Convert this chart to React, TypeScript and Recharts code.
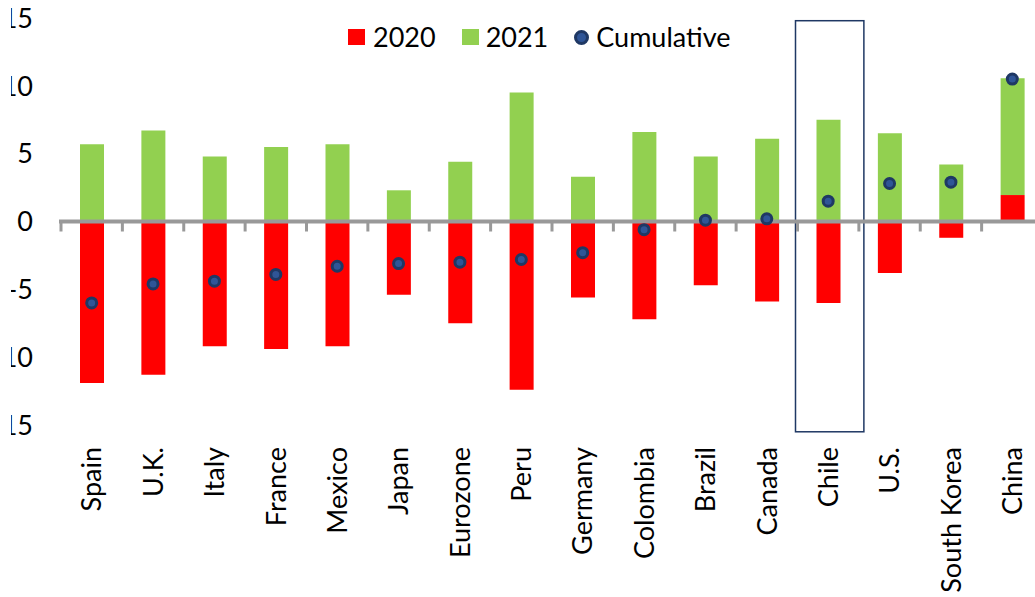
import {
  ComposedChart,
  Bar,
  Line,
  XAxis,
  YAxis,
  ReferenceLine,
  ReferenceArea,
} from 'recharts';

const countries = [
  'Spain', 'U.K.', 'Italy', 'France', 'Mexico', 'Japan', 'Eurozone', 'Peru',
  'Germany', 'Colombia', 'Brazil', 'Canada', 'Chile', 'U.S.', 'South Korea', 'China',
];
const growth2020 = [-11.9, -11.3, -9.2, -9.4, -9.2, -5.4, -7.5, -12.4, -5.6, -7.2, -4.7, -5.9, -6.0, -3.8, -1.2, 1.95];
const growth2021 = [5.7, 6.7, 4.8, 5.5, 5.7, 2.3, 4.4, 9.5, 3.3, 6.6, 4.8, 6.1, 7.5, 6.5, 4.2, 8.6];
const cumulative = [-6.0, -4.6, -4.4, -3.9, -3.3, -3.1, -3.0, -2.8, -2.3, -0.6, 0.1, 0.2, 1.5, 2.8, 2.9, 10.5];
const yTicks = [-15, -10, -5, 0, 5, 10, 15];

const data = countries.map((name, i) => ({
  name,
  y2020: growth2020[i],
  y2021: growth2021[i],
  cumulative: cumulative[i],
}));

const RED = '#ff0000';
const GREEN = '#92d050';
const DOT = '#2f5597';
const NAVY = '#1f3864';
const AXIS_GREY = '#999999';
const FONT = 'Lato, "Open Sans", sans-serif';

const YTick = ({ x, y, payload }: any) => (
  <g>
    <defs>
      <clipPath id={`yclip-${payload.value}`}>
        <rect x={11} y={y - 30} width={60} height={60} />
      </clipPath>
    </defs>
    <text
      x={x}
      y={y}
      dy="0.36em"
      textAnchor="end"
      fill="#000"
      fontSize={27}
      fontFamily={FONT}
      clipPath={`url(#yclip-${payload.value})`}
    >
      {payload.value}
    </text>
  </g>
);

const XTick = ({ x, y, payload }: any) => (
  <text
    x={x}
    y={y + 14}
    dy="0.36em"
    textAnchor="end"
    transform={`rotate(-90, ${x}, ${y + 14})`}
    fill="#000"
    fontSize={27}
    fontFamily={FONT}
  >
    {payload.value}
  </text>
);

// zero line with small tick marks at category boundaries
const ZeroLine = (props: any) => {
  const { x1, x2, y1 } = props;
  const step = (x2 - x1) / countries.length;
  const marks = Array.from({ length: countries.length + 1 }, (_, i) => x1 + i * step);
  return (
    <g>
      <line x1={x1 - 2} x2={x2} y1={y1} y2={y1} stroke={AXIS_GREY} strokeWidth={4} />
      {marks.map((mx, i) => (
        <line key={i} x1={mx} x2={mx} y1={y1} y2={y1 + 10} stroke={AXIS_GREY} strokeWidth={3} />
      ))}
    </g>
  );
};

// highlight box drawn a little wider than the category band
const HighlightBox = ({ x, y, width, height }: any) => (
  <rect x={x - 2} y={y} width={width + 7} height={height} fill="none" stroke={NAVY} strokeWidth={1.5} />
);

const LegendBox = () => (
  <div
    style={{
      position: 'absolute',
      top: 22,
      left: 348,
      display: 'flex',
      alignItems: 'center',
      fontFamily: FONT,
      fontSize: 27,
      color: '#000',
      lineHeight: '30px',
    }}
  >
    <span style={{ width: 17, height: 16, background: RED, marginRight: 8 }} />
    <span style={{ marginRight: 26 }}>2020</span>
    <span style={{ width: 17, height: 16, background: GREEN, marginRight: 7 }} />
    <span style={{ marginRight: 26 }}>2021</span>
    <span
      style={{
        width: 9,
        height: 9,
        borderRadius: '50%',
        background: DOT,
        border: `3px solid ${NAVY}`,
        marginRight: 7,
      }}
    />
    <span>Cumulative</span>
  </div>
);

export default function App() {
  return (
    <div
      style={{
        position: 'absolute',
        left: 0,
        top: 0,
        width: 1035,
        height: 597,
        overflow: 'hidden',
        background: '#fff',
      }}
    >
      <ComposedChart
        width={1050}
        height={597}
        data={data}
        stackOffset="sign"
        barCategoryGap={0}
        margin={{ top: 18, right: 7, bottom: 0, left: 0 }}
      >
        <XAxis
          dataKey="name"
          height={172}
          axisLine={false}
          tickLine={false}
          interval={0}
          tick={<XTick />}
        />
        <YAxis
          width={61}
          domain={[-15, 15]}
          ticks={yTicks}
          axisLine={false}
          tickLine={false}
          tickMargin={22}
          tick={<YTick />}
        />
        <Bar dataKey="y2020" stackId="s" fill={RED} barSize={24} isAnimationActive={false} />
        <Bar dataKey="y2021" stackId="s" fill={GREEN} barSize={24} isAnimationActive={false} />
        <ReferenceLine y={0} shape={<ZeroLine />} />
        <ReferenceArea
          x1="Chile"
          x2="Chile"
          y1={-15.5}
          y2={14.8}
          ifOverflow="visible"
          shape={<HighlightBox />}
        />
        <Line
          dataKey="cumulative"
          stroke="none"
          dot={{ r: 5, fill: DOT, stroke: NAVY, strokeWidth: 3 }}
          activeDot={false}
          isAnimationActive={false}
        />
      </ComposedChart>
      <LegendBox />
    </div>
  );
}
